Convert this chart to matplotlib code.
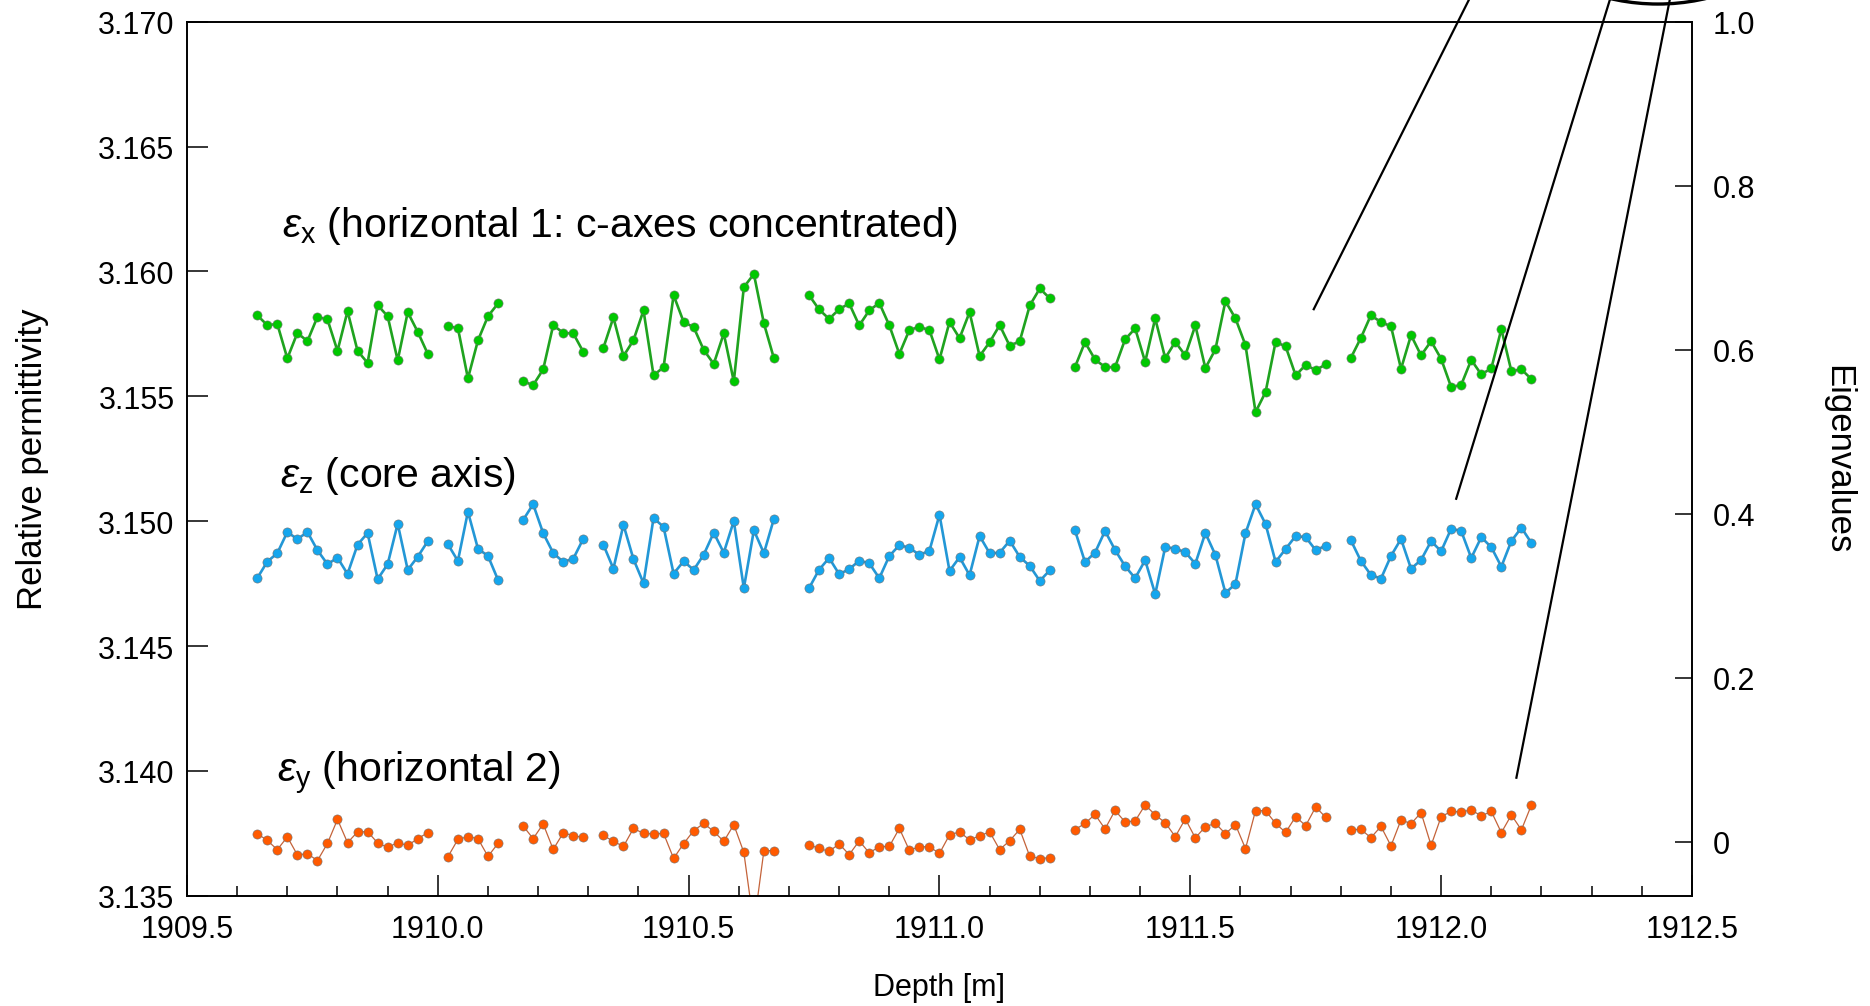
import matplotlib
matplotlib.use("Agg")
import matplotlib.pyplot as plt
from matplotlib.lines import Line2D
from matplotlib.patches import Ellipse
from matplotlib.ticker import FormatStrFormatter, MultipleLocator

plt.rcParams["font.family"] = ["Liberation Sans", "DejaVu Sans"]
plt.rcParams["mathtext.fontset"] = "custom"
plt.rcParams["mathtext.rm"] = "Liberation Sans"
plt.rcParams["mathtext.it"] = "Liberation Sans:italic"

# depth of each measured core section [m]
depth = [
    [1909.64, 1909.66, 1909.68, 1909.70, 1909.72, 1909.74, 1909.76, 1909.78, 1909.80,
     1909.82, 1909.84, 1909.86, 1909.88, 1909.90, 1909.92, 1909.94, 1909.96, 1909.98],
    [1910.02, 1910.04, 1910.06, 1910.08, 1910.10, 1910.12],
    [1910.17, 1910.19, 1910.21, 1910.23, 1910.25, 1910.27, 1910.29],
    [1910.33, 1910.35, 1910.37, 1910.39, 1910.41, 1910.43, 1910.45, 1910.47, 1910.49,
     1910.51, 1910.53, 1910.55, 1910.57, 1910.59, 1910.61, 1910.63, 1910.65, 1910.67],
    [1910.74, 1910.76, 1910.78, 1910.80, 1910.82, 1910.84, 1910.86, 1910.88, 1910.90,
     1910.92, 1910.94, 1910.96, 1910.98, 1911.00, 1911.02, 1911.04, 1911.06, 1911.08,
     1911.10, 1911.12, 1911.14, 1911.16, 1911.18, 1911.20, 1911.22],
    [1911.27, 1911.29, 1911.31, 1911.33, 1911.35, 1911.37, 1911.39, 1911.41, 1911.43,
     1911.45, 1911.47, 1911.49, 1911.51, 1911.53, 1911.55, 1911.57, 1911.59, 1911.61,
     1911.63, 1911.65, 1911.67, 1911.69, 1911.71, 1911.73, 1911.75, 1911.77],
    [1911.82, 1911.84, 1911.86, 1911.88, 1911.90, 1911.92, 1911.94, 1911.96, 1911.98,
     1912.00, 1912.02, 1912.04, 1912.06, 1912.08, 1912.10, 1912.12, 1912.14, 1912.16, 1912.18],
]

eps_x = [
    [3.15825, 3.15785, 3.15790, 3.15652, 3.15754, 3.15721, 3.15818, 3.15808, 3.15682,
     3.15841, 3.15682, 3.15634, 3.15865, 3.15821, 3.15644, 3.15837, 3.15758, 3.15670],
    [3.15780, 3.15774, 3.15572, 3.15724, 3.15821, 3.15872],
    [3.15560, 3.15545, 3.15608, 3.15785, 3.15754, 3.15752, 3.15678],
    [3.15694, 3.15816, 3.15661, 3.15725, 3.15844, 3.15584, 3.15617, 3.15905, 3.15798,
     3.15777, 3.15686, 3.15630, 3.15752, 3.15560, 3.15937, 3.15990, 3.15792, 3.15652],
    [3.15905, 3.15848, 3.15810, 3.15849, 3.15872, 3.15784, 3.15844, 3.15874, 3.15784,
     3.15670, 3.15766, 3.15778, 3.15765, 3.15648, 3.15798, 3.15733, 3.15837, 3.15661,
     3.15717, 3.15785, 3.15702, 3.15721, 3.15864, 3.15932, 3.15892],
    [3.15617, 3.15717, 3.15648, 3.15617, 3.15617, 3.15728, 3.15772, 3.15638, 3.15812,
     3.15653, 3.15718, 3.15664, 3.15784, 3.15613, 3.15688, 3.15881, 3.15812, 3.15705,
     3.15437, 3.15517, 3.15718, 3.15700, 3.15584, 3.15626, 3.15605, 3.15628],
    [3.15654, 3.15734, 3.15825, 3.15797, 3.15781, 3.15610, 3.15745, 3.15664, 3.15721,
     3.15650, 3.15537, 3.15546, 3.15646, 3.15588, 3.15612, 3.15769, 3.15601, 3.15608, 3.15569],
]

eps_z = [
    [3.14772, 3.14838, 3.14872, 3.14957, 3.14928, 3.14957, 3.14884, 3.14828, 3.14854,
     3.14789, 3.14906, 3.14953, 3.14768, 3.14828, 3.14990, 3.14805, 3.14858, 3.14920],
    [3.14908, 3.14841, 3.15038, 3.14890, 3.14861, 3.14765],
    [3.15005, 3.15068, 3.14952, 3.14873, 3.14837, 3.14850, 3.14930],
    [3.14906, 3.14810, 3.14986, 3.14848, 3.14752, 3.15013, 3.14977, 3.14790, 3.14840,
     3.14805, 3.14866, 3.14954, 3.14874, 3.15001, 3.14732, 3.14964, 3.14872, 3.15010],
    [3.14732, 3.14806, 3.14853, 3.14788, 3.14808, 3.14842, 3.14832, 3.14772, 3.14861,
     3.14904, 3.14894, 3.14865, 3.14882, 3.15026, 3.14801, 3.14856, 3.14784, 3.14941,
     3.14872, 3.14874, 3.14922, 3.14857, 3.14821, 3.14761, 3.14804],
    [3.14964, 3.14837, 3.14874, 3.14961, 3.14885, 3.14820, 3.14772, 3.14844, 3.14708,
     3.14897, 3.14890, 3.14876, 3.14830, 3.14953, 3.14865, 3.14713, 3.14749, 3.14952,
     3.15068, 3.14989, 3.14837, 3.14889, 3.14941, 3.14936, 3.14884, 3.14902],
    [3.14924, 3.14841, 3.14785, 3.14770, 3.14861, 3.14929, 3.14810, 3.14845, 3.14920,
     3.14880, 3.14970, 3.14961, 3.14853, 3.14936, 3.14896, 3.14818, 3.14921, 3.14974, 3.14913],
]

eps_y = [
    [3.13749, 3.13722, 3.13685, 3.13736, 3.13664, 3.13669, 3.13641, 3.13710, 3.13806,
     3.13713, 3.13756, 3.13757, 3.13712, 3.13694, 3.13713, 3.13702, 3.13729, 3.13753],
    [3.13656, 3.13726, 3.13737, 3.13729, 3.13658, 3.13710],
    [3.13780, 3.13729, 3.13788, 3.13686, 3.13752, 3.13741, 3.13734],
    [3.13742, 3.13718, 3.13698, 3.13770, 3.13750, 3.13748, 3.13750, 3.13650, 3.13709,
     3.13761, 3.13790, 3.13758, 3.13718, 3.13785, 3.13674, 3.13380, 3.13681, 3.13681],
    [3.13704, 3.13690, 3.13678, 3.13708, 3.13665, 3.13720, 3.13672, 3.13697, 3.13698,
     3.13770, 3.13682, 3.13697, 3.13696, 3.13670, 3.13744, 3.13756, 3.13724, 3.13740,
     3.13756, 3.13685, 3.13721, 3.13766, 3.13658, 3.13649, 3.13653],
    [3.13765, 3.13790, 3.13826, 3.13768, 3.13842, 3.13796, 3.13800, 3.13864, 3.13824,
     3.13793, 3.13737, 3.13808, 3.13732, 3.13777, 3.13790, 3.13749, 3.13785, 3.13689,
     3.13841, 3.13841, 3.13790, 3.13754, 3.13817, 3.13781, 3.13856, 3.13814],
    [3.13765, 3.13766, 3.13733, 3.13778, 3.13700, 3.13804, 3.13789, 3.13833, 3.13702,
     3.13817, 3.13838, 3.13836, 3.13844, 3.13820, 3.13838, 3.13753, 3.13824, 3.13764, 3.13864],
]

# (line colour, marker colour, line width)
STYLE = {
    "x": ("#1fa31f", "#00c800", 1.9),
    "z": ("#2397d6", "#14a6ee", 1.9),
    "y": ("#c4633a", "#ff5a00", 0.9),
}

fig = plt.figure(figsize=(18.7, 10.069), dpi=100)
ax = fig.add_axes([0.1, 0.1094, 0.8048, 0.8681])

for key, series in (("x", eps_x), ("z", eps_z), ("y", eps_y)):
    lc, mc, lw = STYLE[key]
    for d, v in zip(depth, series):
        ax.plot(d, v, "-", color=lc, lw=lw, zorder=2)
        ax.plot(d, v, "o", ms=6.6, mfc=mc, mec="#707070", mew=0.4, zorder=3)

ax.set_xlim(1909.5, 1912.5)
ax.set_ylim(3.135, 3.170)
ax.xaxis.set_major_locator(MultipleLocator(0.5))
ax.xaxis.set_minor_locator(MultipleLocator(0.1))
ax.yaxis.set_major_locator(MultipleLocator(0.005))
ax.xaxis.set_major_formatter(FormatStrFormatter("%.1f"))
ax.yaxis.set_major_formatter(FormatStrFormatter("%.3f"))
ax.tick_params(axis="both", which="major", direction="in", length=15, width=1.1,
               labelsize=22)
ax.tick_params(axis="x", which="minor", direction="in", length=7.5, width=1.1)
ax.tick_params(axis="x", which="major", pad=13)
ax.tick_params(axis="y", which="major", pad=9)
ax.tick_params(top=False, right=False)
for s in ax.spines.values():
    s.set_linewidth(1.2)

ax.set_xlabel("Depth [m]", fontsize=22)
ax.xaxis.set_label_coords(0.5, -0.087)
ax.set_ylabel("Relative permittivity", fontsize=25)
ax.yaxis.set_label_coords(-0.092, 0.5)

ax2 = ax.twinx()
ax2.set_ylim(-0.0656, 1.0)
ax2.set_yticks([0, 0.2, 0.4, 0.6, 0.8, 1.0])
ax2.set_yticklabels(["0", "0.2", "0.4", "0.6", "0.8", "1.0"])
ax2.tick_params(axis="y", direction="in", length=12, width=1.1, labelsize=22, pad=15)
ax2.set_ylabel("Eigenvalues", fontsize=25, rotation=270)
ax2.yaxis.set_label_coords(1.108, 0.5)
for s in ax2.spines.values():
    s.set_linewidth(1.2)

ax.text(1909.69, 3.16143, r"$\varepsilon_{\mathrm{x}}$ (horizontal 1: c-axes concentrated)",
        fontsize=29.5, va="baseline", ha="left")
ax.text(1909.685, 3.15141, r"$\varepsilon_{\mathrm{z}}$ (core axis)",
        fontsize=29.5, va="baseline", ha="left")
ax.text(1909.68, 3.13957, r"$\varepsilon_{\mathrm{y}}$ (horizontal 2)",
        fontsize=29.5, va="baseline", ha="left")

# leader lines running up to the orientation panel above
to_fig = fig.transFigure.inverted()
leaders = [((1911.746, 3.15849), 0.7857), ((1912.03, 3.1509), 0.861), ((1912.15, 3.13973), 0.893)]
for (xd, yd), xtop in leaders:
    fx, fy = to_fig.transform(ax.transData.transform((xd, yd)))
    fig.add_artist(Line2D([fx, xtop], [fy, 1.0], color="black", lw=1.6,
                          transform=fig.transFigure, clip_on=False))

fig.add_artist(Ellipse((0.8866, 1.2036), 0.2246, 0.417, fill=False, ec="black", lw=2.4,
                       transform=fig.transFigure, clip_on=False))

fig.savefig("out.png", dpi=100)
